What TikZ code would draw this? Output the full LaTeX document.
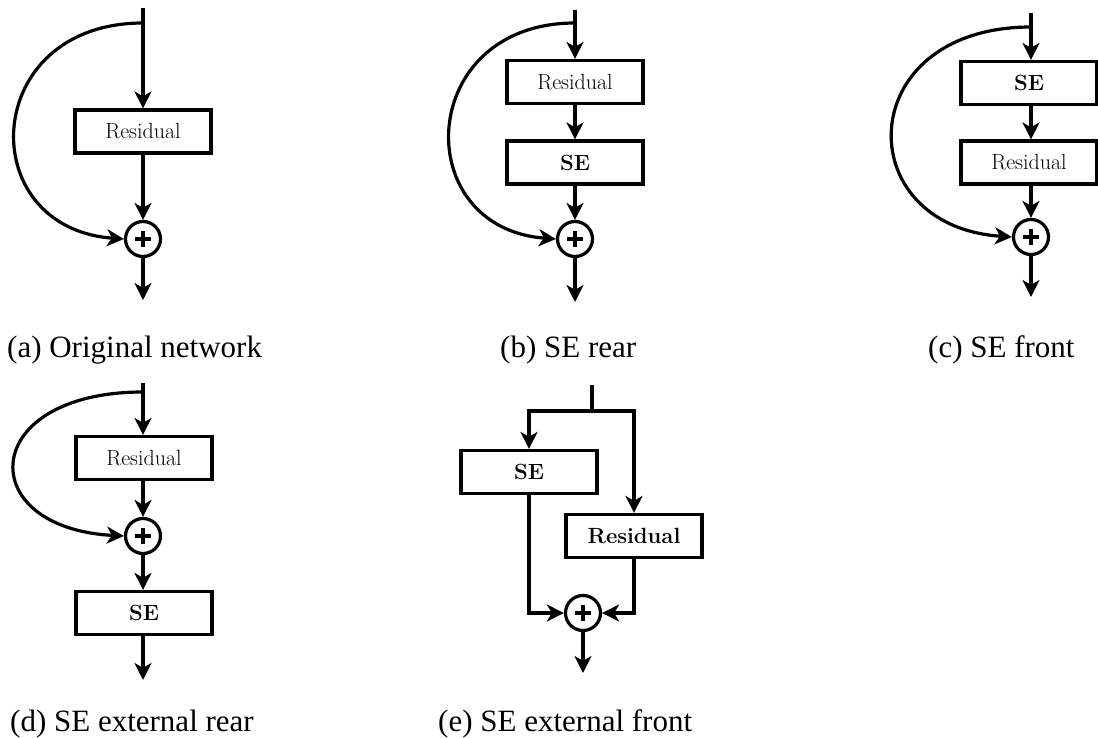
\documentclass[tikz,border=0pt]{standalone}
\usepackage{fontspec}
\newfontfamily\capfont{LiberationSerif-Regular.ttf}
\newcommand{\lmtext}{\fontfamily{lmr}\selectfont}
\usetikzlibrary{arrows.meta}
\begin{document}
\begin{tikzpicture}[x=1pt,y=-1pt,
  blk/.style={draw, line width=3.2pt, minimum width=136pt, minimum height=43pt, inner sep=0pt, font=\lmtext\fontsize{22}{26}\selectfont},
  sumnode/.style={circle, draw, line width=3.2pt, minimum size=35pt, inner sep=0pt,
    path picture={\draw[line width=3.2pt] ([xshift=-8pt]path picture bounding box.center) -- ([xshift=8pt]path picture bounding box.center);
                  \draw[line width=3.2pt] ([yshift=-8pt]path picture bounding box.center) -- ([yshift=8pt]path picture bounding box.center);}},
  wire/.style={line width=3.2pt},
  conn/.style={line width=3.2pt, -{Stealth[length=17pt,width=17pt,inset=5pt]}},
  captext/.style={anchor=base west, inner sep=0pt, font=\capfont\fontsize{31}{36}\selectfont}
]
\useasboundingbox (0,0) rectangle (1098,738);

% ---------- (a)
\coordinate (a0) at (143,8);
\coordinate (ab) at (143,23);
\node[blk] (ar) at (143,131.5) {Residual};
\node[sumnode] (as) at (143,239) {};
\coordinate (ao) at (143,300);
\draw[wire] (a0) -- (ab);
\draw[conn] (ab) -- (ar);
\draw[conn] (ar) -- (as);
\draw[conn] (as) -- (ao);
\draw[conn] (ab) .. controls (-20,23) and (-28,228) .. (as.west);
\node[captext] (acap) at (7,357) {(a) Original network};

% ---------- (b)
\coordinate (b0) at (575,10);
\coordinate (bb) at (575,23);
\node[blk] (br) at (575,82) {Residual};
\node[blk] (bs) at (575,162.5) {\bfseries SE};
\node[sumnode] (bsum) at (575,239) {};
\coordinate (bo) at (575,302);
\draw[wire] (b0) -- (bb);
\draw[conn] (bb) -- (br);
\draw[conn] (br) -- (bs);
\draw[conn] (bs) -- (bsum);
\draw[conn] (bsum) -- (bo);
\draw[conn] (bb) .. controls (416,23) and (408,228) .. (bsum.west);
\node[captext] (bcap) at (500,357) {(b) SE rear};

% ---------- (c)
\coordinate (c0) at (1031,13);
\coordinate (cb) at (1031,27);
\node[blk] (cs) at (1029,83) {\bfseries SE};
\node[blk] (cr) at (1029,162.5) {Residual};
\node[sumnode] (csum) at (1031,237) {};
\coordinate (co) at (1031,297);
\draw[wire] (c0) -- (cb);
\draw[conn] (cb) -- (cs.north -| cb);
\draw[conn] (cs.south -| cb) -- (cr.north -| cb);
\draw[conn] (cr.south -| cb) -- (csum);
\draw[conn] (csum) -- (co);
\draw[conn] (cb) .. controls (852,27) and (848,226) .. (csum.west);
\node[captext] (ccap) at (928,357) {(c) SE front};

% ---------- (d)
\coordinate (d0) at (143,383);
\coordinate (db) at (143,392);
\node[blk] (dr) at (144,458) {Residual};
\node[sumnode] (dsum) at (143,536) {};
\node[blk] (ds) at (144,613) {\bfseries SE};
\coordinate (dout) at (143,680);
\draw[wire] (d0) -- (db);
\draw[conn] (db) -- (dr.north -| db);
\draw[conn] (dr.south -| db) -- (dsum);
\draw[conn] (dsum) -- (ds.north -| dsum);
\draw[conn] (ds.south -| dsum) -- (dout);
\draw[conn] (db) .. controls (-22,392) and (-28,528) .. (dsum.west);
\node[captext] (dcap) at (10,731) {(d) SE external rear};

% ---------- (e)
\coordinate (e0) at (592,385);
\coordinate (eh) at (592,411);
\node[blk, font=\lmtext\fontsize{22}{26}\selectfont\bfseries] (es) at (529,472) {SE};
\node[blk, font=\lmtext\fontsize{22}{26}\selectfont\bfseries] (er) at (634,536) {Residual};
\node[sumnode] (esum) at (583,613) {};
\coordinate (eo) at (583,673);
\draw[wire] (e0) -- (eh);
\draw[conn] (eh) -| (es.north);
\draw[conn] (eh) -| (er.north);
\draw[conn] (es.south) |- (esum.west);
\draw[conn] (er.south) |- (esum.east);
\draw[conn] (esum) -- (eo);
\node[captext] (ecap) at (438,731) {(e) SE external front};
\end{tikzpicture}
\end{document}
